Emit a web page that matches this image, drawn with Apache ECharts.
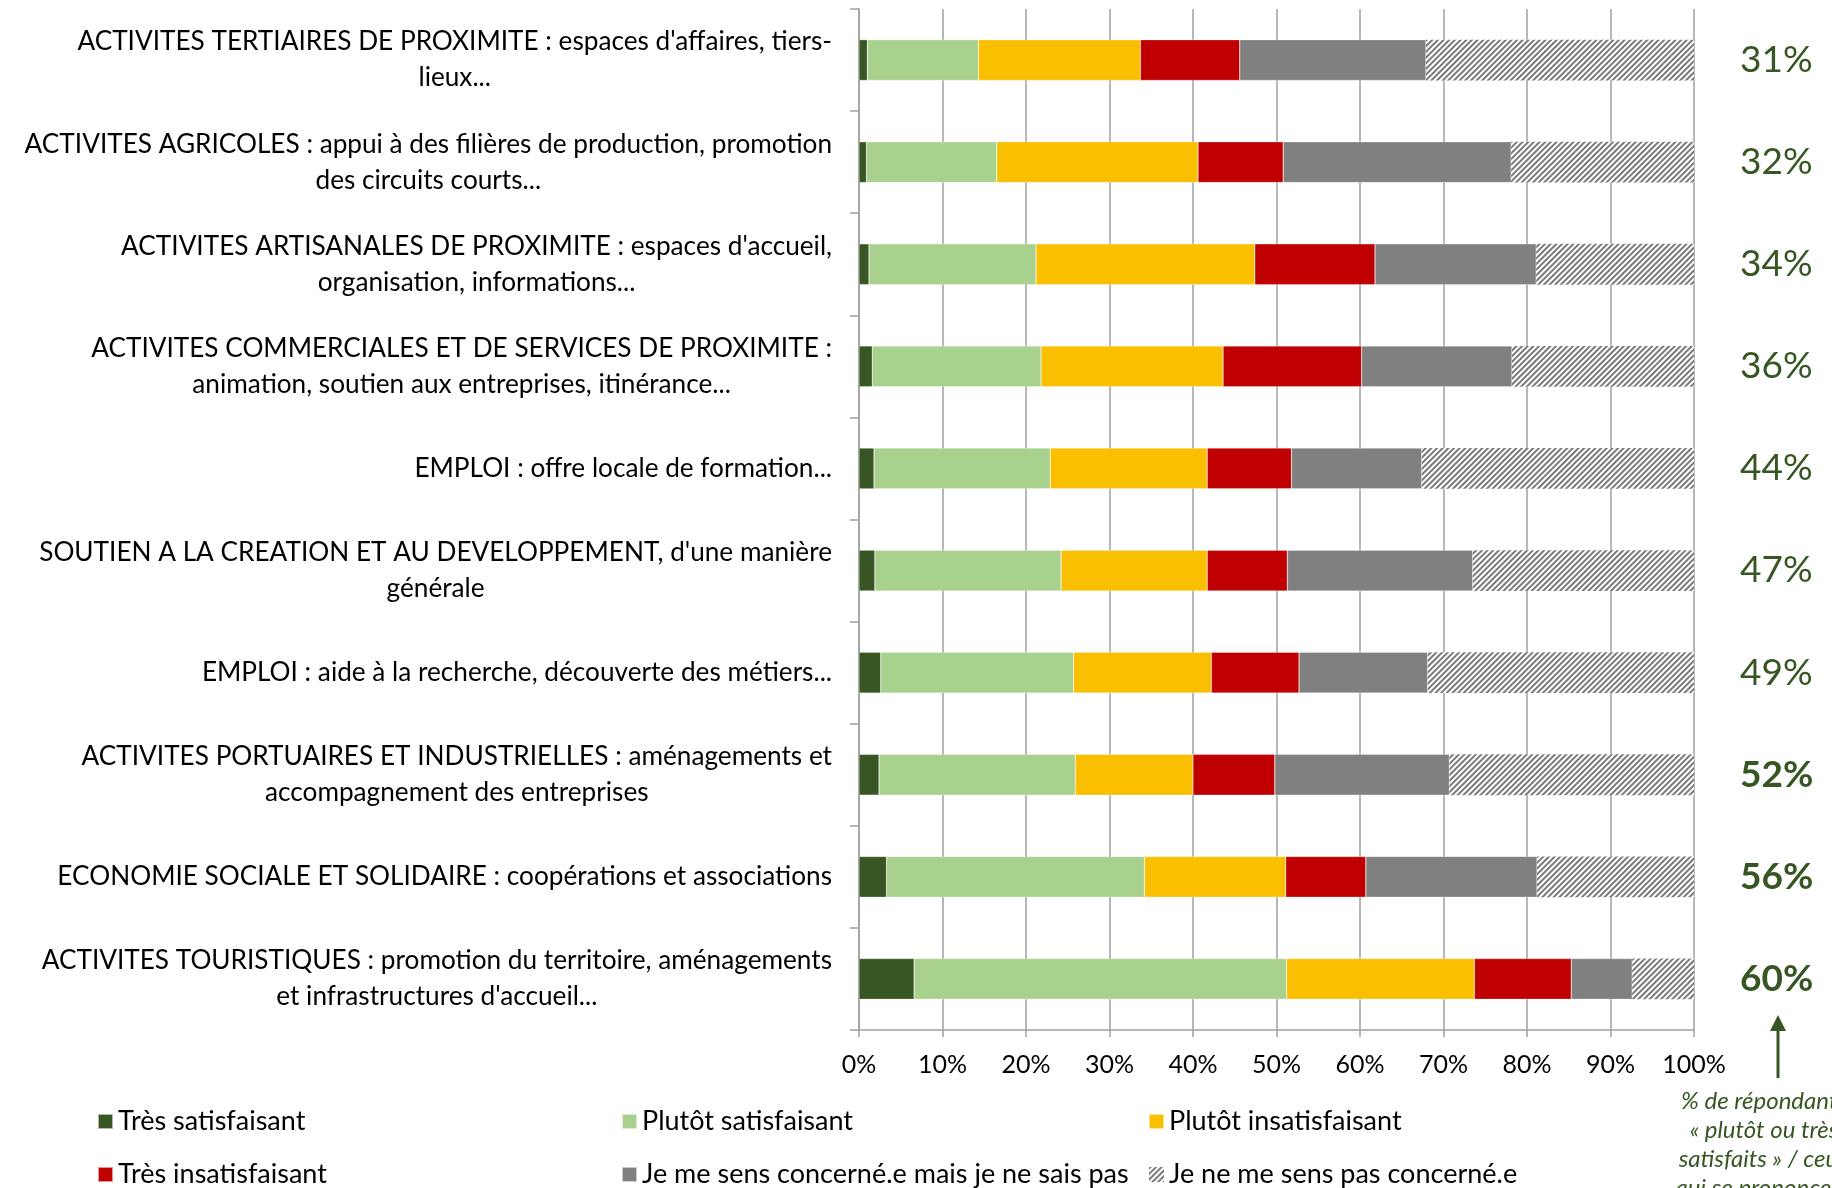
<!DOCTYPE html>
<html>
<head>
<meta charset="utf-8">
<script src="https://cdn.jsdelivr.net/npm/echarts@6/dist/echarts.min.js"></script>
<style>
html,body{margin:0;padding:0;background:#fff;}
#chart{width:1832px;height:1188px;}
</style>
</head>
<body>
<div id="chart"></div>
<script>
const categories = [
  "ACTIVITES TERTIAIRES DE PROXIMITE : espaces d'affaires, tiers-\nlieux...",
  "ACTIVITES AGRICOLES : appui à des filières de production, promotion\ndes circuits courts...",
  "ACTIVITES ARTISANALES DE PROXIMITE : espaces d'accueil,\norganisation, informations...",
  "ACTIVITES COMMERCIALES ET DE SERVICES DE PROXIMITE :\nanimation, soutien aux entreprises, itinérance...",
  "EMPLOI : offre locale de formation...",
  "SOUTIEN A LA CREATION ET AU DEVELOPPEMENT, d'une manière\ngénérale",
  "EMPLOI : aide à la recherche, découverte des métiers...",
  "ACTIVITES PORTUAIRES ET INDUSTRIELLES : aménagements et\naccompagnement des entreprises",
  "ECONOMIE SOCIALE ET SOLIDAIRE : coopérations et associations",
  "ACTIVITES TOURISTIQUES : promotion du territoire, aménagements\net infrastructures d'accueil..."
];
const seriesNames = [
  "Très satisfaisant",
  "Plutôt satisfaisant",
  "Plutôt insatisfaisant",
  "Très insatisfaisant",
  "Je me sens concerné.e mais je ne sais pas",
  "Je ne me sens pas concerné.e"
];
const tresSatisfaisant     = [1.0, 0.9, 1.2, 1.6, 1.8, 1.9, 2.6, 2.4, 3.3, 6.6];
const plutotSatisfaisant   = [13.3, 15.6, 20.0, 20.2, 21.1, 22.3, 23.1, 23.5, 30.9, 44.6];
const plutotInsatisfaisant = [19.4, 24.1, 26.2, 21.8, 18.8, 17.5, 16.5, 14.1, 16.9, 22.5];
const tresInsatisfaisant   = [11.9, 10.2, 14.4, 16.6, 10.1, 9.6, 10.5, 9.8, 9.6, 11.6];
const neSaisPas            = [22.3, 27.3, 19.3, 18.0, 15.6, 22.2, 15.4, 20.9, 20.5, 7.3];
const pasConcerne          = [32.1, 21.9, 18.9, 21.8, 32.6, 26.5, 31.9, 29.3, 18.8, 7.4];
const pctLabels = ["31%", "32%", "34%", "36%", "44%", "47%", "49%", "52%", "56%", "60%"];
const pctBold   = [false, false, false, false, false, false, false, true, true, true];
const xTicks = [0, 10, 20, 30, 40, 50, 60, 70, 80, 90, 100];
const noteText = "% de répondants\n« plutôt ou très\nsatisfaits » / ceux\nqui se prononcent";

const FONT = "Lato";
const colors = ["#375623", "#a9d18e", "#f9bf00", "#c00000", "#808080", "#ffffff"];
const hatchDecal = {
  symbol: 'rect',
  symbolSize: 1,
  color: '#7a7a7a',
  dashArrayX: [1, 0],
  dashArrayY: [1.8, 1.3],
  rotation: -Math.PI / 4
};

const chart = echarts.init(document.getElementById('chart'), null, {renderer: 'canvas'});

const allValues = [tresSatisfaisant, plutotSatisfaisant, plutotInsatisfaisant, tresInsatisfaisant, neSaisPas, pasConcerne];

const series = allValues.map((vals, si) => {
  const s = {
    name: seriesNames[si],
    type: 'bar',
    stack: 'total',
    barWidth: '40%',
    itemStyle: {color: colors[si], borderColor: 'rgba(255,255,255,0.6)', borderWidth: 0.5},
    emphasis: {disabled: true},
    data: vals.slice()
  };
  if (si === 5) {
    s.itemStyle = {color: '#ffffff', decal: hatchDecal};
    s.data = vals.map((v, i) => ({
      value: v,
      label: {fontWeight: pctBold[i] ? 'bold' : 'normal'}
    }));
    s.label = {
      show: true,
      position: 'right',
      distance: 46,
      fontFamily: FONT,
      fontSize: 37,
      color: '#375623',
      formatter: p => pctLabels[p.dataIndex]
    };
  }
  return s;
});

const legendText = {fontFamily: FONT, fontSize: 27, color: '#000', lineHeight: 26};
function legendCol(left, names) {
  return {
    orient: 'vertical',
    left: left,
    top: 1108,
    padding: 0,
    itemWidth: 15,
    itemHeight: 15,
    itemGap: 26,
    icon: 'rect',
    textStyle: legendText,
    selectedMode: false,
    data: names.map(n => n === seriesNames[5]
      ? {name: n, itemStyle: {color: '#ffffff', decal: hatchDecal}}
      : {name: n})
  };
}

const option = {
  animation: false,
  backgroundColor: '#ffffff',
  grid: {left: 859, right: 138, top: 9, bottom: 158, containLabel: false},
  xAxis: {
    type: 'value',
    min: 0,
    max: 100,
    interval: 10,
    axisLine: {show: true, lineStyle: {color: '#a0a0a0', width: 1.5}},
    axisTick: {show: true, length: 7, lineStyle: {color: '#a0a0a0', width: 1.5}},
    splitLine: {show: true, lineStyle: {color: '#a0a0a0', width: 1.5}},
    axisLabel: {
      margin: 22,
      fontFamily: FONT,
      fontSize: 25,
      color: '#000',
      formatter: v => (xTicks.indexOf(v) >= 0 ? v + '%' : '')
    }
  },
  yAxis: {
    type: 'category',
    inverse: true,
    data: categories,
    axisLine: {show: true, lineStyle: {color: '#a0a0a0', width: 1.5}},
    axisTick: {show: true, length: 9, lineStyle: {color: '#a0a0a0', width: 1.5}},
    splitLine: {show: false},
    axisLabel: {
      margin: 27,
      align: 'right',
      fontFamily: FONT,
      fontSize: 26.2,
      color: '#000',
      lineHeight: 36,
      formatter: v => v.split('\n').map(l => '{c|' + l + '}').join('\n'),
      rich: {c: {align: 'center', fontFamily: FONT, fontSize: 26.2, color: '#000', lineHeight: 36}}
    }
  },
  legend: [
    legendCol(97, [seriesNames[0], seriesNames[3]]),
    legendCol(621, [seriesNames[1], seriesNames[4]]),
    legendCol(1148, [seriesNames[2], seriesNames[5]])
  ],
  graphic: [
    {
      type: 'text',
      x: 1764,
      y: 1087,
      style: {
        text: noteText,
        fill: '#375623',
        font: 'italic 24px Lato',
        fontFamily: FONT,
        fontSize: 24,
        fontStyle: 'italic',
        align: 'center',
        textAlign: 'center',
        verticalAlign: 'top',
        lineHeight: 29
      }
    },
    {
      type: 'line',
      shape: {x1: 1778, y1: 1078, x2: 1778, y2: 1028},
      style: {stroke: '#375623', lineWidth: 3}
    },
    {
      type: 'polygon',
      shape: {points: [[1770, 1031], [1786, 1031], [1778, 1015]]},
      style: {fill: '#375623'}
    }
  ],
  series: series
};

chart.setOption(option);
</script>
</body>
</html>
